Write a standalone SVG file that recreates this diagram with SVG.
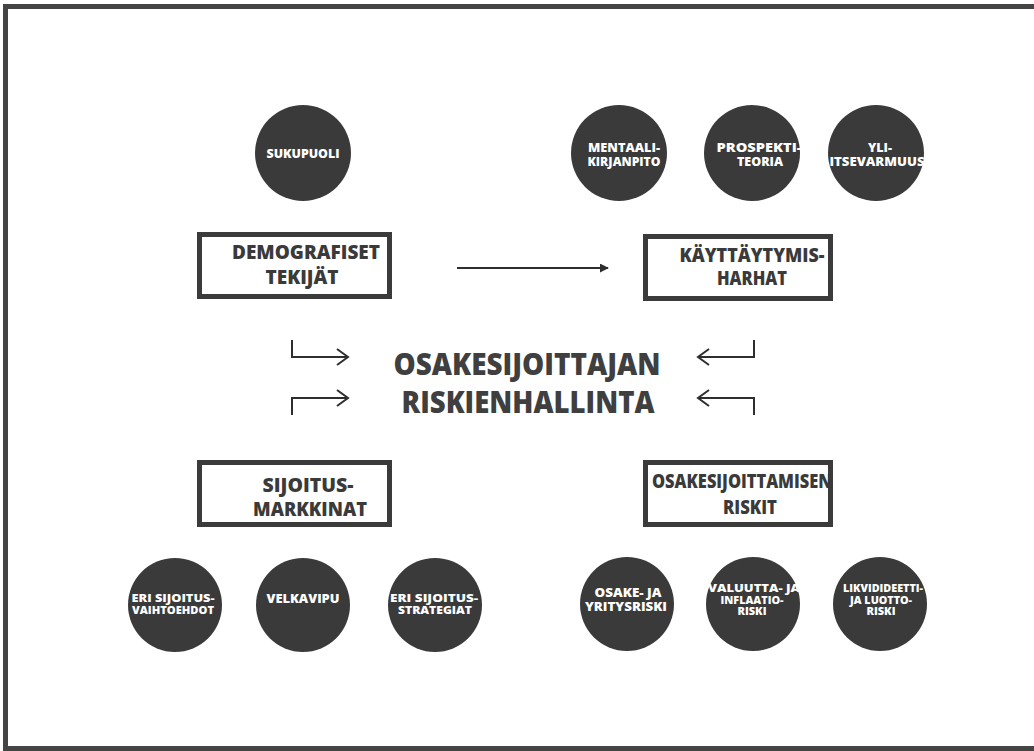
<svg xmlns="http://www.w3.org/2000/svg" width="1034" height="751" viewBox="0 0 1034 751">
<defs>
<style>
.circ{fill:#3a3a3a}
.box{fill:#fff;stroke:#3b3b3b;stroke-width:5}
.bt{font-family:"Open Sans","Liberation Sans",sans-serif;font-weight:800;font-size:19px;fill:#3a3a3a;text-anchor:middle}
.ct{font-family:"Open Sans","Liberation Sans",sans-serif;font-weight:800;font-size:12.5px;fill:#fff;text-anchor:middle}
.cs{font-family:"Open Sans","Liberation Sans",sans-serif;font-weight:800;font-size:11px;fill:#fff;text-anchor:middle}
.title{font-family:"Open Sans","Liberation Sans",sans-serif;font-weight:800;font-size:30px;fill:#3f3f3f;text-anchor:middle}
.conn{fill:none;stroke:#2e2e2e;stroke-width:2;stroke-linecap:butt}
.head{fill:none;stroke:#2e2e2e;stroke-width:2;stroke-linejoin:miter}
</style>
<marker id="tri" viewBox="0 0 10 10" refX="9" refY="5" markerWidth="4.5" markerHeight="4.5" orient="auto" markerUnits="strokeWidth">
<path d="M0 0 L10 5 L0 10 Z" fill="#2e2e2e"/>
</marker>
</defs>
<rect width="1034" height="751" fill="#fff"/>
<path d="M1040 6.5 H5.5 V748.5 H1040" fill="none" stroke="#444" stroke-width="5"/>

<g id="sukupuoli"><circle class="circ" cx="303" cy="153" r="48"/><text class="ct" x="303" y="158" textLength="73" lengthAdjust="spacingAndGlyphs">SUKUPUOLI</text></g>
<g id="mentaali"><circle class="circ" cx="619" cy="153" r="48"/><text class="ct" x="624" y="152" textLength="72" lengthAdjust="spacingAndGlyphs">MENTAALI-</text><text class="ct" x="624" y="166" textLength="73" lengthAdjust="spacingAndGlyphs">KIRJANPITO</text></g>
<g id="prospekti"><circle class="circ" cx="752" cy="153" r="48"/><text class="ct" x="759" y="152" textLength="85" lengthAdjust="spacingAndGlyphs">PROSPEKTI-</text><text class="ct" x="760" y="166" textLength="46" lengthAdjust="spacingAndGlyphs">TEORIA</text></g>
<g id="yli"><circle class="circ" cx="876" cy="153" r="48"/><text class="ct" x="880" y="152">YLI-</text><text class="ct" x="877" y="166" textLength="95" lengthAdjust="spacingAndGlyphs">ITSEVARMUUS</text></g>

<g id="demografiset"><rect class="box" x="199.5" y="234.5" width="190" height="62"/><text class="bt" x="306" y="259" textLength="148" lengthAdjust="spacingAndGlyphs">DEMOGRAFISET</text><text class="bt" x="302" y="284" textLength="73" lengthAdjust="spacingAndGlyphs">TEKIJÄT</text></g>
<g id="kayttaytymis"><rect class="box" x="645.5" y="236.5" width="185" height="62"/><text class="bt" x="752" y="262" textLength="145" lengthAdjust="spacingAndGlyphs">KÄYTTÄYTYMIS-</text><text class="bt" x="752" y="285" textLength="70" lengthAdjust="spacingAndGlyphs">HARHAT</text></g>
<g id="sijoitusmarkkinat"><rect class="box" x="199.5" y="462.5" width="190" height="62"/><text class="bt" x="308" y="492" textLength="91" lengthAdjust="spacingAndGlyphs">SIJOITUS-</text><text class="bt" x="310" y="516" textLength="114" lengthAdjust="spacingAndGlyphs">MARKKINAT</text></g>
<g id="osakesijoittamisen"><rect class="box" x="645.5" y="462.5" width="185" height="62"/><text class="bt" x="742" y="488" textLength="180" lengthAdjust="spacingAndGlyphs">OSAKESIJOITTAMISEN</text><text class="bt" x="750" y="514" textLength="54" lengthAdjust="spacingAndGlyphs">RISKIT</text></g>

<g id="riskienhallinta"><text class="title" x="527" y="375" textLength="267" lengthAdjust="spacingAndGlyphs">OSAKESIJOITTAJAN</text><text class="title" x="528" y="413" textLength="253" lengthAdjust="spacingAndGlyphs">RISKIENHALLINTA</text></g>

<g id="eri-vaihtoehdot"><circle class="circ" cx="175" cy="605" r="47"/><text class="cs" x="173" y="602" textLength="83" lengthAdjust="spacingAndGlyphs">ERI SIJOITUS-</text><text class="cs" x="173" y="614" textLength="82" lengthAdjust="spacingAndGlyphs">VAIHTOEHDOT</text></g>
<g id="velkavipu"><circle class="circ" cx="303" cy="605" r="47"/><text class="ct" x="303" y="603" textLength="73" lengthAdjust="spacingAndGlyphs">VELKAVIPU</text></g>
<g id="eri-strategiat"><circle class="circ" cx="435" cy="605" r="47"/><text class="cs" x="434" y="602" textLength="88" lengthAdjust="spacingAndGlyphs">ERI SIJOITUS-</text><text class="cs" x="435" y="614" textLength="74" lengthAdjust="spacingAndGlyphs">STRATEGIAT</text></g>
<g id="osakeriski"><circle class="circ" cx="627" cy="604" r="47"/><text class="ct" x="628" y="597" textLength="67" lengthAdjust="spacingAndGlyphs">OSAKE- JA</text><text class="ct" x="626" y="611" textLength="82" lengthAdjust="spacingAndGlyphs">YRITYSRISKI</text></g>
<g id="valuuttariski"><circle class="circ" cx="753" cy="604" r="47"/><text class="cs" x="754" y="592" textLength="92" lengthAdjust="spacingAndGlyphs">VALUUTTA- JA</text><text class="cs" x="752" y="603.5" textLength="63" lengthAdjust="spacingAndGlyphs">INFLAATIO-</text><text class="cs" x="752" y="615">RISKI</text></g>
<g id="likviditeettiriski"><circle class="circ" cx="880" cy="604" r="47"/><text class="cs" x="883" y="592" textLength="80" lengthAdjust="spacingAndGlyphs">LIKVIDIDEETTI-</text><text class="cs" x="881" y="603.5" textLength="62" lengthAdjust="spacingAndGlyphs">JA LUOTTO-</text><text class="cs" x="881" y="615">RISKI</text></g>

<g id="connectors">
<line class="conn" x1="457" y1="268" x2="608" y2="268" marker-end="url(#tri)"/>
<path class="conn" d="M292 340 V357 H348"/><path class="head" d="M337 349 L348 357 L337 365"/>
<path class="conn" d="M292 415 V398 H348"/><path class="head" d="M337 390 L348 398 L337 406"/>
<path class="conn" d="M754 340 V357 H698"/><path class="head" d="M709 349 L698 357 L709 365"/>
<path class="conn" d="M754 415 V398 H698"/><path class="head" d="M709 390 L698 398 L709 406"/>
</g>
</svg>
